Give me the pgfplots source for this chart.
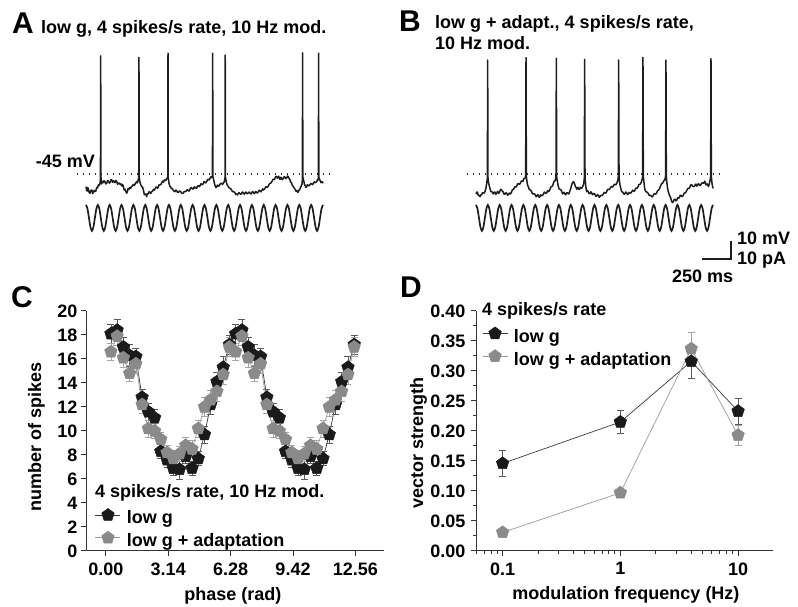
\documentclass[border=0pt]{standalone}
\usepackage{pgfplots}
\pgfplotsset{compat=1.18}
\usepackage{pgfplotstable}
\usepackage{fontspec}
\setmainfont{Liberation Sans}
\usetikzlibrary{plotmarks}
\definecolor{tr}{HTML}{1E1E1E}
\definecolor{dotc}{HTML}{2A2A2A}
\definecolor{blk}{HTML}{1A1A1A}
\definecolor{gry}{HTML}{8A8A8A}
\definecolor{ln1}{HTML}{3A3A3A}
\definecolor{ln2}{HTML}{9A9A9A}
\definecolor{ebk}{HTML}{5A5A5A}
\definecolor{egy}{HTML}{A5A5A5}
\definecolor{axc}{HTML}{333333}
\newcommand{\bfs}{\fontsize{18}{21.6}\selectfont\bfseries}
\newcommand{\panfont}{\fontsize{30}{30}\selectfont\bfseries}
\tikzset{
  trace/.style={line width=1.5pt, color=tr, line join=round},
  sine/.style={line width=1.7pt, color=tr, smooth},
  dotline/.style={line width=1.3pt, color=dotc, dash pattern=on 1.3pt off 4.7pt, line cap=butt},
}
\pgfplotstableread[row sep=\\]{
t v\\
0 -62.2\\ 12.5 -64.3\\ 25 -69.4\\ 37.5 -74.5\\ 50 -76.6\\ 62.5 -74.5\\ 75 -69.4\\ 87.5 -64.3\\
100 -62.2\\ 112.5 -64.3\\ 125 -69.4\\ 137.5 -74.5\\ 150 -76.6\\ 162.5 -74.5\\ 175 -69.4\\ 187.5 -64.3\\
200 -62.2\\ 212.5 -64.3\\ 225 -69.4\\ 237.5 -74.5\\ 250 -76.6\\ 262.5 -74.5\\ 275 -69.4\\ 287.5 -64.3\\
300 -62.2\\ 312.5 -64.3\\ 325 -69.4\\ 337.5 -74.5\\ 350 -76.6\\ 362.5 -74.5\\ 375 -69.4\\ 387.5 -64.3\\
400 -62.2\\ 412.5 -64.3\\ 425 -69.4\\ 437.5 -74.5\\ 450 -76.6\\ 462.5 -74.5\\ 475 -69.4\\ 487.5 -64.3\\
500 -62.2\\ 512.5 -64.3\\ 525 -69.4\\ 537.5 -74.5\\ 550 -76.6\\ 562.5 -74.5\\ 575 -69.4\\ 587.5 -64.3\\
600 -62.2\\ 612.5 -64.3\\ 625 -69.4\\ 637.5 -74.5\\ 650 -76.6\\ 662.5 -74.5\\ 675 -69.4\\ 687.5 -64.3\\
700 -62.2\\ 712.5 -64.3\\ 725 -69.4\\ 737.5 -74.5\\ 750 -76.6\\ 762.5 -74.5\\ 775 -69.4\\ 787.5 -64.3\\
800 -62.2\\ 812.5 -64.3\\ 825 -69.4\\ 837.5 -74.5\\ 850 -76.6\\ 862.5 -74.5\\ 875 -69.4\\ 887.5 -64.3\\
900 -62.2\\ 912.5 -64.3\\ 925 -69.4\\ 937.5 -74.5\\ 950 -76.6\\ 962.5 -74.5\\ 975 -69.4\\ 987.5 -64.3\\
1000 -62.2\\ 1012.5 -64.3\\ 1025 -69.4\\ 1037.5 -74.5\\ 1050 -76.6\\ 1062.5 -74.5\\ 1075 -69.4\\ 1087.5 -64.3\\
1100 -62.2\\ 1112.5 -64.3\\ 1125 -69.4\\ 1137.5 -74.5\\ 1150 -76.6\\ 1162.5 -74.5\\ 1175 -69.4\\ 1187.5 -64.3\\
1200 -62.2\\ 1212.5 -64.3\\ 1225 -69.4\\ 1237.5 -74.5\\ 1250 -76.6\\ 1262.5 -74.5\\ 1275 -69.4\\ 1287.5 -64.3\\
1300 -62.2\\ 1312.5 -64.3\\ 1325 -69.4\\ 1337.5 -74.5\\ 1350 -76.6\\ 1362.5 -74.5\\ 1375 -69.4\\ 1387.5 -64.3\\
1400 -62.2\\ 1412.5 -64.3\\ 1425 -69.4\\ 1437.5 -74.5\\ 1450 -76.6\\ 1462.5 -74.5\\ 1475 -69.4\\ 1487.5 -64.3\\
1500 -62.2\\ 1512.5 -64.3\\ 1525 -69.4\\ 1537.5 -74.5\\ 1550 -76.6\\ 1562.5 -74.5\\ 1575 -69.4\\ 1587.5 -64.3\\
1600 -62.2\\ 1612.5 -64.3\\ 1625 -69.4\\ 1637.5 -74.5\\ 1650 -76.6\\ 1662.5 -74.5\\ 1675 -69.4\\ 1687.5 -64.3\\
1700 -62.2\\ 1712.5 -64.3\\ 1725 -69.4\\ 1737.5 -74.5\\ 1750 -76.6\\ 1762.5 -74.5\\ 1775 -69.4\\ 1787.5 -64.3\\
1800 -62.2\\ 1812.5 -64.3\\ 1825 -69.4\\ 1837.5 -74.5\\ 1850 -76.6\\ 1862.5 -74.5\\ 1875 -69.4\\ 1887.5 -64.3\\
1900 -62.2\\ 1912.5 -64.3\\ 1925 -69.4\\ 1937.5 -74.5\\ 1950 -76.6\\ 1962.5 -74.5\\ 1975 -69.4\\ 1987.5 -64.3\\
2000 -62.2\\
}\sinetab
\pgfplotstableread[row sep=\\]{
p v e\\
0.254 18.1 0.8\\ 0.568 18.4 0.9\\ 0.882 17.0 0.8\\ 1.196 16.3 0.9\\ 1.510 16.2 0.7\\
1.824 12.8 0.7\\ 2.138 11.6 0.7\\ 2.452 11.1 0.7\\ 2.766 8.3 0.6\\ 3.080 7.6 0.6\\
3.394 6.9 0.6\\ 3.708 6.8 0.8\\ 4.022 7.9 0.6\\ 4.336 6.9 0.6\\ 4.650 7.7 0.6\\
4.964 9.7 0.7\\ 5.278 12.2 0.8\\ 5.592 14.1 0.8\\ 5.906 15.3 0.9\\ 6.220 17.2 0.8\\
6.534 18.1 0.8\\ 6.848 18.4 0.9\\ 7.162 17.0 0.8\\ 7.476 16.3 0.9\\ 7.790 16.2 0.7\\
8.104 12.8 0.7\\ 8.418 11.6 0.7\\ 8.732 11.1 0.7\\ 9.046 8.3 0.6\\ 9.360 7.6 0.6\\
9.674 6.9 0.6\\ 9.988 6.8 0.8\\ 10.302 7.9 0.6\\ 10.616 6.9 0.6\\ 10.930 7.7 0.6\\
11.244 9.7 0.7\\ 11.558 12.2 0.8\\ 11.872 14.1 0.8\\ 12.186 15.3 0.9\\ 12.500 17.2 0.8\\
}\Cblack
\pgfplotstableread[row sep=\\]{
p v e\\
0.254 16.6 0.7\\ 0.568 17.9 0.8\\ 0.882 16.1 0.8\\ 1.196 14.8 0.7\\ 1.510 15.6 0.8\\
1.824 12.2 0.7\\ 2.138 10.2 0.7\\ 2.452 10.0 0.6\\ 2.766 9.3 0.6\\ 3.080 8.2 0.6\\
3.394 7.7 0.7\\ 3.708 8.1 0.6\\ 4.022 8.8 0.7\\ 4.336 8.5 0.7\\ 4.650 10.2 0.7\\
4.964 12.0 0.8\\ 5.278 12.6 0.8\\ 5.592 13.3 0.8\\ 5.906 14.7 0.8\\ 6.220 17.0 0.8\\
6.534 16.6 0.7\\ 6.848 17.9 0.8\\ 7.162 16.1 0.8\\ 7.476 14.8 0.7\\ 7.790 15.6 0.8\\
8.104 12.2 0.7\\ 8.418 10.2 0.7\\ 8.732 10.0 0.6\\ 9.046 9.3 0.6\\ 9.360 8.2 0.6\\
9.674 7.7 0.7\\ 9.988 8.1 0.6\\ 10.302 8.8 0.7\\ 10.616 8.5 0.7\\ 10.930 10.2 0.7\\
11.244 12.0 0.8\\ 11.558 12.6 0.8\\ 11.872 13.3 0.8\\ 12.186 14.7 0.8\\ 12.500 17.0 0.8\\
}\Cgray
\pgfplotstableread[row sep=\\]{
f v e\\
0.1 0.146 0.021\\ 1 0.215 0.019\\ 4 0.316 0.028\\ 10 0.233 0.022\\
}\Dblack
\pgfplotstableread[row sep=\\]{
f v e\\
0.1 0.031 0.004\\ 1 0.097 0.004\\ 4 0.337 0.028\\ 10 0.193 0.017\\
}\Dgray
\pgfplotsset{
  dataax/.style={
    scale only axis, clip=false,
    axis x line*=bottom, axis y line*=left,
    axis line style={-, line width=1pt, color=axc},
    tick style={line width=1pt, color=axc},
    tick align=outside, major tick length=5pt, minor tick length=3pt,
    tick label style={font=\bfs},
    label style={font=\bfs},
    /pgf/number format/assume math mode=true,
    legend cell align=left,
    legend style={draw=none, fill=none, inner sep=0pt, column sep=6pt, row sep=0pt,
      font=\bfs, nodes={inner sep=0pt, text height=14pt, text depth=7.3pt}},
    legend image code/.code={\draw[mark repeat=2,mark phase=2,##1] plot coordinates {(0pt,5.5pt) (12.5pt,5.5pt) (25pt,5.5pt)};},
  },
  sblack/.style={color=ln1, line width=0.7pt, mark=pentagon*, mark size=6.6pt,
    mark options={fill=blk, draw=blk, line width=0.5pt, solid},
    error bars/.cd, y dir=both, y explicit,
    error bar style={line width=0.6pt, color=ebk},
    error mark options={rotate=90, mark size=3.5pt, line width=0.6pt, color=ebk}},
  sgray/.style={color=ln2, line width=0.7pt, mark=pentagon*, mark size=6.6pt,
    mark options={fill=gry, draw=gry, line width=0.5pt, solid},
    error bars/.cd, y dir=both, y explicit,
    error bar style={line width=0.6pt, color=egy},
    error mark options={rotate=90, mark size=3.5pt, line width=0.6pt, color=egy}},
}
\begin{document}
\begin{tikzpicture}[font=\bfs]
\useasboundingbox (0,0) rectangle (798pt,607pt);
% ---------- Panel A ----------
\begin{axis}[at={(86pt,370pt)}, anchor=south west, scale only axis, width=237pt, height=187.2pt,
  xmin=0, xmax=2000, ymin=-80, ymax=24, hide axis, clip=false]
\addplot[dotline] coordinates {(-76,-45) (2067,-45)};
\addplot[trace] coordinates {
(0,-52.0) (5,-53.8) (10,-54.5) (15,-52.6) (20,-53.2) (27,-55.4) (34,-55.7) (42,-54.0) (50,-54.0) (56,-55.9)
(62,-55.2) (69,-54.1) (76,-54.8) (83,-54.5) (90,-52.5) (97,-52.7) (105,-51.0) (111,-51.5) (118,-50.2) (122,-47.5)
(124,20.6) (126,-46.5) (132,-50.5) (138,-49.2) (145,-49.8) (152,-48.7) (160,-49.3) (167,-50.5) (175,-50.0) (182,-48.6)
(190,-49.0) (197,-50.1) (205,-49.5) (211,-48.1) (218,-48.4) (224,-49.6) (231,-48.7) (238,-49.4) (245,-49.8) (252,-48.6)
(260,-49.2) (266,-50.7) (273,-50.2) (281,-50.0) (290,-51.0) (297,-50.5) (305,-51.8) (310,-51.0) (315,-52.0) (322,-53.9)
(330,-53.5) (336,-54.6) (343,-55.7) (349,-54.9) (355,-53.0) (362,-53.6) (370,-52.5) (377,-52.9) (385,-52.0) (392,-51.5)
(400,-50.8) (407,-51.4) (415,-50.5) (421,-49.8) (428,-49.3) (434,-49.9) (440,-48.5) (445,-47.0) (447,19.8) (449,-46.5)
(455,-49.5) (462,-51.0) (470,-52.0) (477,-52.3) (485,-54.0) (492,-56.5) (500,-56.0) (506,-56.4) (512,-57.6) (518,-55.9)
(525,-56.0) (532,-54.9) (540,-55.2) (547,-55.8) (554,-54.8) (562,-54.5) (570,-53.5) (577,-53.9) (585,-53.0) (592,-52.2)
(600,-52.6) (605,-52.9) (610,-52.0) (617,-51.0) (625,-51.0) (632,-50.8) (640,-49.8) (647,-48.9) (655,-49.5) (661,-48.4)
(667,-48.3) (674,-48.5) (680,-47.8) (685,-47.3) (690,-46.5) (692,22.1) (694,-46.8) (700,-50.0) (705,-51.3) (709,-52.0)
(714,-52.0) (720,-53.0) (727,-53.1) (735,-54.0) (743,-54.5) (751,-54.8) (758,-53.9) (765,-54.3) (772,-55.2) (780,-55.2)
(790,-54.4) (800,-54.9) (810,-55.8) (821,-55.7) (828,-54.8) (835,-54.6) (842,-54.8) (850,-54.0) (857,-53.7) (865,-54.4)
(871,-54.5) (878,-53.5) (886,-52.5) (895,-53.0) (902,-53.4) (910,-52.5) (915,-52.2) (920,-52.9) (927,-52.4) (934,-52.9)
(942,-51.7) (950,-51.5) (957,-52.0) (965,-51.2) (971,-50.4) (978,-50.8) (984,-50.9) (990,-50.2) (997,-49.2) (1005,-49.8)
(1012,-49.9) (1020,-49.0) (1027,-48.0) (1035,-48.0) (1040,-48.3) (1046,-47.4) (1053,-46.6) (1060,-47.0) (1067,-46.0) (1069,22.1)
(1071,-46.5) (1080,-49.0) (1085,-50.6) (1090,-51.5) (1096,-52.6) (1103,-52.0) (1109,-51.2) (1115,-51.8) (1122,-51.7) (1130,-50.8)
(1137,-50.2) (1145,-50.2) (1152,-50.9) (1160,-50.0) (1165,-49.5) (1170,-48.5) (1173,-47.0) (1175,21.1) (1177,-46.8) (1185,-49.8)
(1193,-51.3) (1201,-52.0) (1208,-52.7) (1215,-53.0) (1222,-53.2) (1230,-54.0) (1236,-54.8) (1243,-54.8) (1250,-55.0) (1258,-55.5)
(1264,-56.4) (1271,-56.1) (1278,-56.6) (1285,-55.8) (1292,-55.4) (1300,-55.9) (1307,-56.3) (1315,-55.5) (1322,-55.0) (1330,-55.8)
(1337,-56.2) (1345,-55.3) (1350,-55.0) (1356,-55.7) (1363,-56.0) (1370,-55.4) (1377,-55.0) (1385,-55.8) (1392,-56.1) (1400,-55.2)
(1407,-54.8) (1415,-55.6) (1421,-55.9) (1428,-55.0) (1434,-54.7) (1440,-55.4) (1447,-55.5) (1455,-54.8) (1462,-54.0) (1470,-54.5)
(1477,-54.9) (1485,-54.0) (1491,-53.3) (1497,-53.9) (1503,-53.6) (1510,-53.0) (1517,-52.1) (1525,-52.2) (1532,-52.4) (1540,-51.5)
(1546,-50.6) (1553,-50.2) (1561,-50.0) (1570,-49.0) (1577,-48.0) (1585,-48.0) (1590,-48.1) (1595,-47.2) (1602,-46.3) (1609,-46.5)
(1615,-47.3) (1620,-47.0) (1625,-46.2) (1630,-46.8) (1635,-47.9) (1640,-47.8) (1645,-46.8) (1650,-47.2) (1657,-48.1) (1665,-47.4)
(1672,-46.5) (1680,-46.8) (1687,-47.6) (1695,-47.0) (1701,-46.1) (1708,-46.5) (1714,-47.6) (1720,-48.0) (1727,-49.4) (1735,-50.0)
(1742,-51.4) (1750,-52.0) (1757,-52.9) (1765,-53.5) (1772,-54.5) (1780,-54.2) (1786,-55.2) (1792,-54.8) (1798,-54.0) (1805,-53.5)
(1810,-52.3) (1815,-52.0) (1820,-51.0) (1824,-50.5) (1826,-47.0) (1828,22.4) (1830,-46.8) (1840,-49.5) (1845,-51.0) (1850,-51.5)
(1856,-52.4) (1862,-52.0) (1868,-51.0) (1875,-51.3) (1882,-51.6) (1890,-51.0) (1897,-50.3) (1905,-50.5) (1912,-50.9) (1919,-50.2)
(1927,-49.4) (1935,-49.8) (1941,-49.6) (1948,-49.0) (1953,-48.2) (1958,-48.3) (1961,-47.0) (1963,22.1) (1965,-46.8) (1970,-47.9)
(1975,-48.5) (1982,-49.8) (1989,-49.3) (1995,-49.4) (2000,-50.2)};
\addplot[sine] table[x=t, y=v] {\sinetab};
\end{axis}
% ---------- Panel B ----------
\begin{axis}[at={(476pt,370pt)}, anchor=south west, scale only axis, width=237pt, height=187.2pt,
  xmin=0, xmax=2000, ymin=-80, ymax=24, hide axis, clip=false]
\addplot[dotline] coordinates {(-76,-45) (2076,-45)};
\addplot[trace] coordinates {
(0,-56.1) (6,-55.2) (12,-55.0) (17,-56.4) (22,-57.0) (28,-56.8) (34,-57.6) (41,-56.6) (48,-56.5) (54,-55.4)
(60,-55.5) (68,-55.6) (76,-54.8) (80,-53.6) (84,-53.0) (87,-51.5) (90,-50.2) (93,-48.8) (96,-47.0) (98.5,18.3)
(101,-47.0) (104,-48.9) (108,-50.5) (113,-51.8) (118,-53.0) (125,-54.8) (132,-54.8) (139,-55.2) (146,-56.1) (153,-55.1)
(160,-55.0) (167,-56.3) (175,-55.8) (181,-54.6) (188,-55.4) (194,-55.7) (200,-54.8) (208,-53.5) (217,-53.9) (223,-54.6)
(230,-55.0) (237,-56.3) (245,-56.1) (252,-55.4) (260,-55.8) (267,-56.8) (275,-56.3) (281,-55.6) (287,-56.1) (293,-55.9)
(300,-55.0) (307,-53.8) (315,-53.5) (322,-52.9) (329,-52.0) (337,-52.3) (345,-51.5) (352,-50.4) (360,-50.5) (367,-50.8)
(375,-50.0) (382,-48.9) (390,-49.0) (395,-49.2) (399,-48.3) (405,-47.4) (410,-47.5) (415,-47.2) (419,-46.0) (422,19.6)
(425,-46.5) (432,-50.0) (437,-51.6) (442,-52.0) (448,-53.4) (455,-53.8) (462,-54.0) (470,-55.0) (477,-56.0) (484,-56.1)
(492,-55.9) (500,-56.6) (507,-57.6) (515,-57.2) (521,-56.5) (528,-57.0) (534,-58.0) (540,-57.6) (547,-56.6) (555,-57.0)
(562,-56.9) (570,-56.0) (577,-55.0) (585,-55.5) (592,-55.8) (600,-55.0) (605,-54.2) (610,-54.8) (617,-54.4) (625,-53.5)
(632,-52.1) (640,-52.0) (646,-51.6) (653,-50.2) (659,-49.0) (665,-49.0) (669,-48.4) (673,-47.0) (675,-46.0) (678,19.3)
(681,-46.5) (685,-48.4) (688,-49.5) (692,-51.0) (695,-52.0) (702,-53.3) (710,-53.5) (717,-53.8) (725,-55.0) (731,-56.0)
(737,-55.7) (743,-55.2) (750,-56.0) (757,-56.6) (765,-55.5) (772,-55.5) (779,-56.1) (785,-55.9) (790,-55.0) (795,-53.8)
(800,-53.0) (805,-51.6) (810,-50.5) (815,-49.8) (821,-49.3) (827,-49.6) (832,-50.5) (838,-51.8) (845,-52.5) (850,-53.5)
(855,-53.0) (860,-52.4) (864,-52.9) (870,-53.6) (875,-53.2) (880,-52.4) (885,-52.8) (892,-52.9) (900,-52.0) (905,-51.3)
(910,-50.0) (914,-47.0) (917,18.7) (920,-47.0) (926,-51.5) (930,-53.5) (934,-54.8) (941,-54.2) (948,-55.0) (955,-56.0)
(962,-55.8) (969,-54.9) (976,-55.5) (983,-56.5) (990,-56.1) (997,-55.8) (1005,-56.5) (1012,-57.4) (1020,-57.0) (1027,-56.5)
(1035,-57.2) (1040,-58.0) (1046,-57.6) (1053,-56.9) (1060,-56.8) (1067,-57.0) (1075,-56.0) (1082,-55.2) (1090,-55.5) (1096,-55.6)
(1103,-54.8) (1110,-53.6) (1118,-53.5) (1125,-53.7) (1132,-53.0) (1138,-52.2) (1145,-52.0) (1152,-52.3) (1160,-51.5) (1167,-50.7)
(1175,-51.0) (1181,-50.9) (1187,-50.2) (1192,-49.4) (1197,-48.5) (1201,-46.5) (1204,18.3) (1207,-46.5) (1211,-49.0) (1215,-51.0)
(1222,-53.0) (1229,-54.8) (1236,-55.0) (1243,-55.5) (1250,-56.3) (1258,-55.8) (1265,-55.0) (1272,-55.5) (1279,-56.4) (1286,-56.1)
(1293,-55.2) (1300,-55.5) (1307,-55.6) (1315,-54.8) (1322,-54.0) (1330,-54.5) (1336,-54.6) (1342,-53.9) (1348,-52.9) (1355,-52.8)
(1361,-52.8) (1368,-52.0) (1374,-50.9) (1380,-50.8) (1387,-50.6) (1395,-49.5) (1400,-48.3) (1404,-47.5) (1406,-46.0) (1409,19.8)
(1412,-46.5) (1418,-50.0) (1422,-52.2) (1426,-53.9) (1433,-54.8) (1440,-55.0) (1447,-55.2) (1455,-56.0) (1462,-56.9) (1470,-56.8)
(1476,-57.0) (1482,-57.6) (1488,-57.7) (1495,-57.0) (1502,-56.1) (1510,-56.0) (1517,-56.2) (1525,-55.4) (1532,-54.3) (1540,-54.0)
(1547,-53.4) (1555,-52.0) (1561,-51.1) (1567,-50.2) (1573,-50.2) (1580,-49.5) (1586,-48.6) (1592,-48.5) (1598,-47.0) (1600,-46.0)
(1603,18.3) (1606,-46.5) (1612,-50.5) (1617,-53.0) (1623,-54.8) (1630,-56.4) (1638,-57.5) (1644,-58.5) (1650,-60.0) (1657,-60.8)
(1665,-60.4) (1672,-59.2) (1680,-59.0) (1687,-59.9) (1695,-59.5) (1701,-58.2) (1708,-58.5) (1715,-58.2) (1722,-57.0) (1729,-56.8)
(1736,-57.5) (1743,-57.4) (1750,-56.7) (1757,-55.6) (1765,-55.5) (1772,-55.0) (1780,-54.0) (1786,-53.2) (1793,-53.0) (1800,-53.0)
(1806,-52.0) (1813,-51.0) (1820,-51.0) (1827,-51.8) (1835,-52.0) (1842,-51.8) (1850,-51.0) (1856,-50.6) (1862,-51.7) (1868,-51.3)
(1875,-50.5) (1882,-50.6) (1890,-51.5) (1897,-51.0) (1905,-50.0) (1912,-49.9) (1919,-50.2) (1925,-49.8) (1930,-49.0) (1935,-49.6)
(1940,-51.0) (1945,-51.1) (1950,-50.5) (1956,-51.0) (1961,-52.0) (1966,-51.2) (1970,-50.0) (1974,-49.0) (1978,-47.5) (1980,-46.0)
(1983,19.1) (1986,-46.5) (1992,-50.5) (1996,-51.8) (2000,-53.0)};
\addplot[sine] table[x=t, y=v] {\sinetab};
% scale bar: 250 ms, 10 mV / 10 pA
\addplot[line width=1.2pt, color=tr, sharp plot] coordinates {(1907,-92.2) (2152,-92.2) (2152,-82.2)};
\end{axis}
% ---------- Panel C ----------
\begin{axis}[dataax, at={(86pt,56pt)}, anchor=south west, width=298pt, height=240pt,
  xmin=-1, xmax=14, ymin=0, ymax=20,
  xtick={0,3.14,6.28,9.42,12.56}, xticklabels={0.00,3.14,6.28,9.42,12.56},
  ytick={0,2,4,6,8,10,12,14,16,18,20},
  xticklabel style={yshift=-3pt},
  xlabel={phase (rad)}, ylabel={number of spikes},
  xlabel style={at={(axis description cs:0.493,-0.208)}, anchor=base},
  ylabel style={at={(axis description cs:-0.151,0.475)}, anchor=base},
  legend style={at={(axis description cs:0.030,0.178)}, anchor=north west}]
\addplot[sblack] table[x=p, y=v, y error=e] {\Cblack};
\addlegendentry{low g}
\addplot[sgray] table[x=p, y=v, y error=e] {\Cgray};
\addlegendentry{low g + adaptation}
\end{axis}
% ---------- Panel D ----------
\begin{axis}[dataax, at={(476pt,56pt)}, anchor=south west, width=297pt, height=240pt,
  xmode=log, xmin=0.0594, xmax=19.8, ymin=0, ymax=0.4,
  xtick={0.1,1,10}, xticklabels={0.1,1,10},
  minor xtick={0.06,0.07,0.08,0.09,0.2,0.3,0.4,0.5,0.6,0.7,0.8,0.9,2,3,4,5,6,7,8,9,20},
  ytick={0,0.05,0.1,0.15,0.2,0.25,0.3,0.35,0.4}, minor y tick num=1,
  yticklabel style={/pgf/number format/fixed, /pgf/number format/fixed zerofill, /pgf/number format/precision=2, xshift=-2pt},
  xticklabel style={yshift=-3pt},
  xlabel={modulation frequency (Hz)}, ylabel={vector strength},
  xlabel style={at={(axis description cs:0.505,-0.204)}, anchor=base},
  ylabel style={at={(axis description cs:-0.178,0.45)}, anchor=base},
  legend style={at={(axis description cs:0.0202,0.9346)}, anchor=north west}]
\addplot[sblack] table[x=f, y=v, y error=e] {\Dblack};
\addlegendentry{low g}
\addplot[sgray] table[x=f, y=v, y error=e] {\Dgray};
\addlegendentry{low g + adaptation}
\end{axis}
% ---------- texts ----------
\node[anchor=base west, inner sep=0pt, font=\panfont] at (12pt,573pt) {A};
\node[anchor=base west, inner sep=0pt] at (41pt,573pt) {low g, 4 spikes/s rate, 10 Hz mod.};
\node[anchor=base west, inner sep=0pt, font=\panfont] at (399pt,575pt) {B};
\node[anchor=base west, inner sep=0pt] at (435pt,578.7pt) {low g + adapt., 4 spikes/s rate,};
\node[anchor=base west, inner sep=0pt] at (435pt,557pt) {10 Hz mod.};
\node[anchor=base east, inner sep=0pt] at (95pt,439pt) {-45 mV};
\node[anchor=base west, inner sep=0pt] at (737pt,362pt) {10 mV};
\node[anchor=base west, inner sep=0pt] at (737pt,342pt) {10 pA};
\node[anchor=base west, inner sep=0pt] at (672pt,324pt) {250 ms};
\node[anchor=base west, inner sep=0pt, font=\panfont] at (11pt,299pt) {C};
\node[anchor=base west, inner sep=0pt, font=\panfont] at (400pt,309pt) {D};
\node[anchor=base west, inner sep=0pt] at (95pt,109.7pt) {4 spikes/s rate, 10 Hz mod.};
\node[anchor=base west, inner sep=0pt] at (482pt,291pt) {4 spikes/s rate};
\end{tikzpicture}
\end{document}
